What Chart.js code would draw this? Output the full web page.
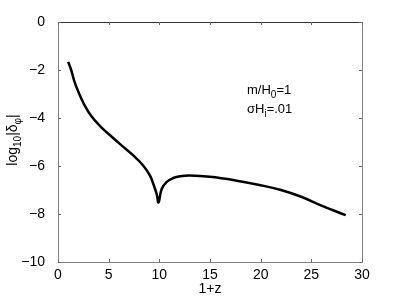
<!DOCTYPE html>
<html>
<head>
<meta charset="utf-8">
<script src="https://cdn.jsdelivr.net/npm/chart.js@4"></script>
<style>
  html, body { margin: 0; padding: 0; background: #fff; }
  #wrap { width: 399px; height: 300px; }
</style>
</head>
<body>
<div id="wrap"><canvas id="c" width="399" height="300"></canvas></div>
<script>
// values
const onePlusZ = [1.0, 1.3, 1.6, 2.0, 2.6, 3.3, 4.3, 5.3, 6.1, 7.4, 8.4, 9.08, 9.41, 9.74, 9.92,
                  10.23, 10.73, 11.38, 12.05, 13.0, 15.0, 17.5, 20.0, 22.0, 24.0, 26.0, 28.4];
const logDelta = [-1.66, -2.0, -2.45, -2.9, -3.45, -3.93, -4.4, -4.78, -5.08, -5.55, -5.98, -6.4, -6.75, -7.17, -7.52,
                  -6.96, -6.66, -6.5, -6.43, -6.4, -6.45, -6.6, -6.8, -7.0, -7.28, -7.65, -8.05];
const xTicks = [0, 5, 10, 15, 20, 25, 30];
const yTicks = [-10, -8, -6, -4, -2, 0];

const FONT = '"Liberation Sans", Arial, sans-serif';

const points = [];
for (let i = 0; i < onePlusZ.length; i++) {
  points.push({ x: onePlusZ[i], y: logDelta[i] });
}

// box + inward ticks, like the original
const boxPlugin = {
  id: 'boxTicks',
  afterDraw(chart) {
    const ctx = chart.ctx;
    const a = chart.chartArea;
    const xs = chart.scales.x, ys = chart.scales.y;
    ctx.save();
    ctx.lineWidth = 1;
    ctx.strokeStyle = '#808080';
    ctx.beginPath();
    ctx.moveTo(a.left + 0.5, a.top);
    ctx.lineTo(a.left + 0.5, a.bottom + 0.5);
    ctx.lineTo(a.right + 0.5, a.bottom + 0.5);
    ctx.lineTo(a.right + 0.5, a.top);
    ctx.stroke();
    ctx.strokeStyle = '#333';
    ctx.beginPath();
    ctx.moveTo(a.left, a.top + 0.5);
    ctx.lineTo(a.right + 1, a.top + 0.5);
    ctx.stroke();
    ctx.strokeStyle = '#666';
    ctx.beginPath();
    for (const t of xTicks) {
      const px = Math.round(xs.getPixelForValue(t)) + 0.5;
      ctx.moveTo(px, a.bottom); ctx.lineTo(px, a.bottom - 3);
      ctx.moveTo(px, a.top); ctx.lineTo(px, a.top + 3);
    }
    for (const t of yTicks) {
      const py = Math.round(ys.getPixelForValue(t)) + 0.5;
      ctx.moveTo(a.left, py); ctx.lineTo(a.left + 3, py);
      ctx.moveTo(a.right, py); ctx.lineTo(a.right - 3, py);
    }
    ctx.stroke();

    ctx.fillStyle = '#000';
    // x axis title
    ctx.font = '14px ' + FONT;
    ctx.textAlign = 'center';
    ctx.textBaseline = 'alphabetic';
    ctx.fillText('1+z', (a.left + a.right) / 2, 293);

    // y axis title: log10|δφ|
    ctx.save();
    ctx.translate(17, 140);
    ctx.rotate(-Math.PI / 2);
    ctx.textAlign = 'left';
    const parts = [['log', 0, 14], ['10', 4, 10], ['|δ', 0, 14], ['φ', 4, 10], ['|', 0, 14]];
    let w = 0;
    for (const p of parts) { ctx.font = p[2] + 'px ' + FONT; w += ctx.measureText(p[0]).width; }
    let x0 = -w / 2;
    for (const p of parts) {
      ctx.font = p[2] + 'px ' + FONT;
      ctx.fillText(p[0], x0, p[1]);
      x0 += ctx.measureText(p[0]).width;
    }
    ctx.restore();

    // annotation
    const drawRich = (parts, x, y) => {
      ctx.textAlign = 'left';
      for (const p of parts) {
        ctx.font = p[2] + 'px ' + FONT;
        ctx.fillText(p[0], x, y + p[1]);
        x += ctx.measureText(p[0]).width;
      }
    };
    drawRich([['m/H', 0, 13], ['0', 4, 10], ['=1', 0, 13]], 247, 94);
    drawRich([['σH', 0, 13], ['i', 4, 10], ['=.01', 0, 13]], 247, 113);
    ctx.restore();
  }
};

new Chart(document.getElementById('c'), {
  type: 'line',
  data: {
    datasets: [{
      data: points,
      borderColor: '#000',
      borderWidth: 2.5,
      pointRadius: 0,
      tension: 0.4,
      fill: false
    }]
  },
  options: {
    responsive: false,
    animation: false,
    devicePixelRatio: 1,
    layout: { padding: { top: 22, right: 37, left: 0, bottom: 0 } },
    plugins: { legend: { display: false }, tooltip: { enabled: false } },
    scales: {
      x: {
        type: 'linear', min: 0, max: 30,
        afterFit(scale) { scale.height = 38; },
        afterBuildTicks(scale) { scale.ticks = xTicks.map(v => ({ value: v })); },
        grid: { display: false },
        border: { display: false },
        ticks: { color: '#000', font: { family: FONT, size: 14 }, padding: -3, maxRotation: 0 }
      },
      y: {
        type: 'linear', min: -10, max: 0,
        afterFit(scale) { scale.width = 58; },
        afterBuildTicks(scale) { scale.ticks = yTicks.map(v => ({ value: v })); },
        grid: { display: false },
        border: { display: false },
        ticks: {
          color: '#000', font: { family: FONT, size: 14 }, padding: 5,
          callback: v => String(v).replace('-', '\u2212')
        }
      }
    }
  },
  plugins: [boxPlugin]
});
</script>
</body>
</html>
